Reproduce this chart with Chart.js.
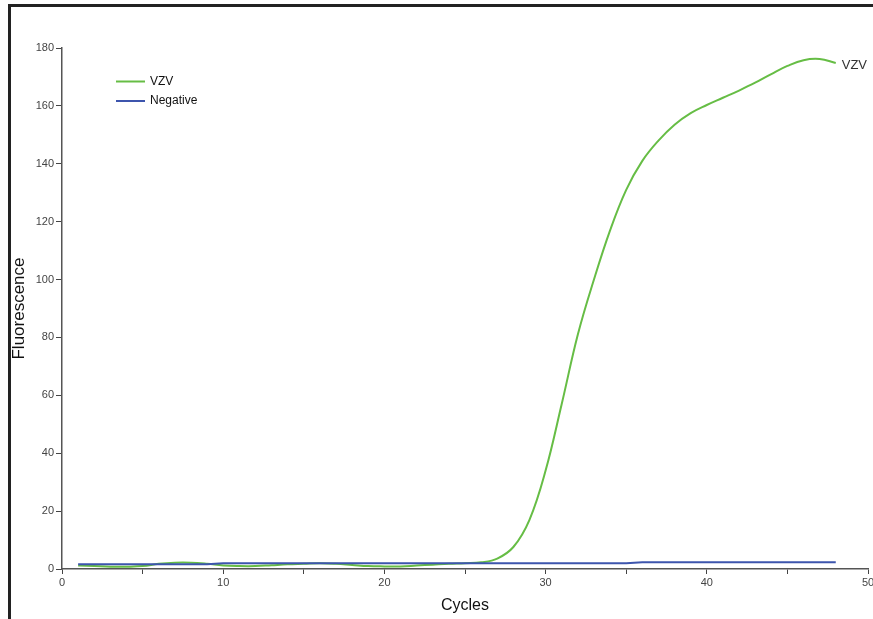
<!DOCTYPE html>
<html>
<head>
<meta charset="utf-8">
<script src="https://cdn.jsdelivr.net/npm/chart.js@4/dist/chart.umd.min.js"></script>
<style>
  html, body { margin: 0; padding: 0; background: #fff; }
  #wrap { position: relative; width: 873px; height: 619px; }
</style>
</head>
<body>
<div id="wrap"><canvas id="pcrChart" width="873" height="619"></canvas></div>
<script>
// data
const cycles = [1, 2, 3, 4, 5, 6, 7, 8, 9, 10, 11, 12, 13, 14, 15, 16, 17, 18, 19, 20, 21, 22, 23, 24,
  25, 26, 27, 28, 29, 30, 31, 32, 33, 34, 35, 36, 37, 38, 39, 40, 41, 42, 43, 44, 45, 46, 47, 48];
const vzvValues = [1.2, 1.0, 0.8, 0.8, 1.0, 1.8, 2.2, 2.2, 1.8, 1.2, 1.0, 1.0, 1.3, 1.6, 1.8, 2.0,
  1.8, 1.4, 1.0, 0.9, 0.9, 1.2, 1.5, 1.8, 2.0, 2.3, 3.6, 7.6, 17, 34, 57, 81, 100, 117, 131, 141,
  148, 153.5, 157.5, 160.3, 162.8, 165.3, 168, 171, 173.8, 175.8, 176.2, 174.8];
const negativeValues = [1.6, 1.6, 1.6, 1.6, 1.6, 1.6, 1.6, 1.6, 1.6, 2.0, 2.0, 2.0, 2.0, 2.0, 2.0, 2.0,
  2.0, 2.0, 2.0, 2.0, 2.0, 2.0, 2.0, 2.0, 2.0, 2.0, 2.0, 2.0, 2.0, 2.0, 2.0, 2.0, 2.0, 2.0, 2.0, 2.3,
  2.3, 2.3, 2.3, 2.3, 2.3, 2.3, 2.3, 2.3, 2.3, 2.3, 2.3, 2.3];
const seriesNames = ['VZV', 'Negative'];
const seriesColors = ['#66bd45', '#3d55ad'];
const xTitle = 'Cycles';
const yTitle = 'Fluorescence';

// utils
function toPoints(values) {
  return values.map((v, i) => ({ x: cycles[i], y: v }));
}

// frame, legend and end label
const decorations = {
  id: 'decorations',
  afterDraw(chart) {
    const ctx = chart.ctx;
    ctx.save();
    // frame
    ctx.strokeStyle = '#222';
    ctx.lineWidth = 3;
    ctx.beginPath();
    ctx.moveTo(9.5, 619);
    ctx.lineTo(9.5, 5.5);
    ctx.lineTo(873, 5.5);
    ctx.stroke();
    // legend
    ctx.font = '12px "Liberation Sans", Arial, sans-serif';
    ctx.textBaseline = 'middle';
    seriesNames.forEach((name, i) => {
      const y = 81.5 + i * 19.5;
      ctx.strokeStyle = seriesColors[i];
      ctx.lineWidth = 2;
      ctx.beginPath();
      ctx.moveTo(116, y);
      ctx.lineTo(145, y);
      ctx.stroke();
      ctx.fillStyle = '#111';
      ctx.fillText(name, 150, y);
    });
    // label at end of VZV curve
    const meta = chart.getDatasetMeta(0);
    const last = meta.data[meta.data.length - 1];
    ctx.font = '13px "Liberation Sans", Arial, sans-serif';
    ctx.fillStyle = '#333';
    ctx.fillText(seriesNames[0], last.x + 6, last.y + 2);
    ctx.restore();
  }
};

function startApp() {
  const ctx = document.getElementById('pcrChart').getContext('2d');
  Chart.defaults.font.family = '"Liberation Sans", Arial, sans-serif';
  new Chart(ctx, {
    type: 'line',
    data: {
      datasets: [
        {
          label: seriesNames[0],
          data: toPoints(vzvValues),
          borderColor: seriesColors[0],
          borderWidth: 2,
          pointRadius: 0,
          tension: 0.4,
          order: 1
        },
        {
          label: seriesNames[1],
          data: toPoints(negativeValues),
          borderColor: seriesColors[1],
          borderWidth: 2,
          pointRadius: 0,
          order: 0
        }
      ]
    },
    options: {
      responsive: false,
      animation: false,
      layout: { padding: { left: 0, right: 5, top: 48, bottom: 0 } },
      plugins: {
        legend: { display: false },
        tooltip: { enabled: false }
      },
      scales: {
        x: {
          type: 'linear',
          min: 0,
          max: 50,
          afterFit(scale) {
            scale.height = 50;
            scale.paddingRight = 0;
            scale.paddingLeft = 0;
          },
          border: { color: '#555', width: 1.5 },
          grid: { drawOnChartArea: false, drawTicks: true, tickLength: 5, color: '#444' },
          ticks: {
            stepSize: 5,
            autoSkip: false,
            maxRotation: 0,
            padding: 2,
            color: '#444',
            font: { size: 11 },
            callback: v => (v % 10 === 0 ? v : '')
          },
          title: {
            display: true,
            text: xTitle,
            color: '#111',
            font: { size: 16 },
            padding: { top: 0, bottom: 4 }
          }
        },
        y: {
          min: 0,
          max: 180,
          afterFit(scale) {
            scale.width = 62;
          },
          border: { color: '#555', width: 1.5 },
          grid: { drawOnChartArea: false, drawTicks: true, tickLength: 6, color: '#444' },
          ticks: {
            stepSize: 20,
            padding: 2,
            color: '#444',
            font: { size: 11 }
          },
          title: {
            display: true,
            text: yTitle,
            color: '#111',
            font: { size: 17 },
            padding: { top: 9, bottom: 0 }
          }
        }
      }
    },
    plugins: [decorations]
  });
}

startApp();
</script>
</body>
</html>
